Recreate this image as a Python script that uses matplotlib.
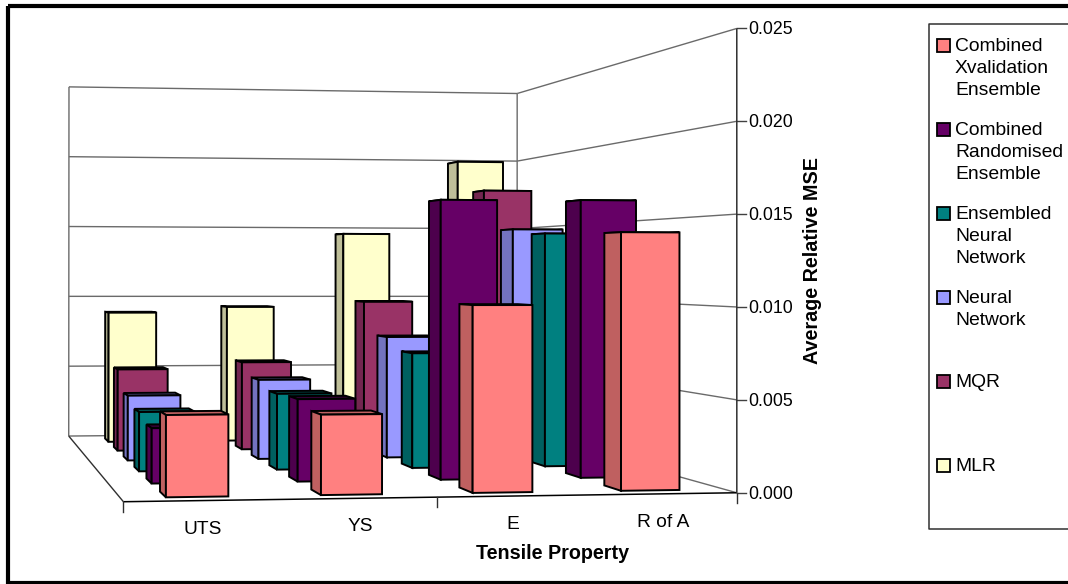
import matplotlib
matplotlib.use("Agg")
import matplotlib.pyplot as plt
import numpy as np
from matplotlib.patches import Polygon, Rectangle

plt.rcParams["font.family"] = ["Liberation Sans", "DejaVu Sans"]

categories = ["UTS", "YS", "E", "R of A"]
series_names = [
    "Combined\nXvalidation\nEnsemble",
    "Combined\nRandomised\nEnsemble",
    "Ensembled\nNeural\nNetwork",
    "Neural\nNetwork",
    "MQR",
    "MLR",
]
combined_xval = [0.00432, 0.00427, 0.01008, 0.01403]
combined_rand = [0.00309, 0.00465, 0.01596, 0.01600]
ensembled_nn = [0.00351, 0.00453, 0.00692, 0.01419]
neural_net = [0.00405, 0.00499, 0.00767, 0.01457]
mqr = [0.00535, 0.00578, 0.00980, 0.01732]
mlr = [0.00894, 0.00933, 0.01447, 0.01963]
series_values = [combined_xval, combined_rand, ensembled_nn, neural_net, mqr, mlr]
tick_values = [0.000, 0.005, 0.010, 0.015, 0.020, 0.025]

front_colors = ["#FF8080", "#660066", "#008080", "#9999FF", "#993366", "#FFFFCC"]
side_colors = ["#BF6060", "#4D004D", "#006060", "#7373BF", "#732650", "#BFBF99"]
top_colors = ["#BF6060", "#330033", "#004D4D", "#6060A0", "#5C1F40", "#BFBF99"]

Z_MAX = 0.025
BAR_X = (0.29, 0.69)
BAR_FRONT = 0.25
BAR_DEPTH = 0.4
GRID_GRAY = "#6A6A6A"


def fit_projection(world, screen):
    rows = []
    for (x, y, z), (u, v) in zip(world, screen):
        rows.append([x, y, z, 1, 0, 0, 0, 0, -u * x, -u * y, -u * z, -u])
        rows.append([0, 0, 0, 0, x, y, z, 1, -v * x, -v * y, -v * z, -v])
    return np.linalg.svd(np.array(rows, dtype=float))[2][-1].reshape(3, 4)


# box corners: x in categories, y in depth (0 front, 1 back), z as value / Z_MAX
PROJ = fit_projection(
    [(0, 0, 0), (4, 0, 0), (0, 1, 0), (4, 1, 0), (4, 0, 1), (4, 1, 1), (0, 1, 1)],
    [(123, 503), (737, 491), (69, 435), (517, 433), (737, 29), (517, 93), (69, 87)],
)


def project(x, y, value):
    p = PROJ @ np.array([x, y, value / Z_MAX, 1.0])
    return p[0] / p[2], p[1] / p[2]


def draw_bar(ax, cat, row, value):
    x0, x1 = cat + BAR_X[0], cat + BAR_X[1]
    slot = 1 / len(series_values)
    y0 = (row + BAR_FRONT) * slot
    y1 = y0 + BAR_DEPTH * slot
    faces = [
        ([(x0, y0, value), (x1, y0, value), (x1, y1, value), (x0, y1, value)], top_colors[row]),
        ([(x0, y0, 0), (x0, y1, 0), (x0, y1, value), (x0, y0, value)], side_colors[row]),
        ([(x0, y0, 0), (x1, y0, 0), (x1, y0, value), (x0, y0, value)], front_colors[row]),
    ]
    for corners, color in faces:
        ax.add_patch(Polygon([project(*c) for c in corners], closed=True, facecolor=color,
                             edgecolor="black", linewidth=1.4, joinstyle="miter", zorder=3))


def line3d(ax, a, b, color=GRID_GRAY, lw=1.0, zorder=2):
    p, q = project(*a), project(*b)
    ax.plot([p[0], q[0]], [p[1], q[1]], color=color, lw=lw, solid_capstyle="butt", zorder=zorder)


fig = plt.figure(figsize=(10.68, 5.84), dpi=100)
ax = fig.add_axes([0, 0, 1, 1])
ax.set_xlim(0, 1068)
ax.set_ylim(584, 0)
ax.axis("off")

# outer frame, its right side runs off the canvas
ax.add_patch(Rectangle((8, 6), 1070, 577, fill=False, edgecolor="black", linewidth=3, joinstyle="miter"))

# back and side walls
for v in tick_values:
    line3d(ax, (0, 1, v), (4, 1, v))
    line3d(ax, (4, 1, v), (4, 0, v))
    p = project(4, 0, v)
    ax.plot([p[0], p[0] + 9], [p[1], p[1]], color="#404040", lw=1.0, zorder=4)
    ax.text(p[0] + 11, p[1] + 1.5, f"{v:.3f}", ha="left", va="center", fontsize=12.8)
line3d(ax, (0, 1, 0), (0, 1, Z_MAX))
line3d(ax, (4, 1, 0), (4, 1, Z_MAX))

# floor edges
line3d(ax, (0, 1, 0), (0, 0, 0), color="#303030")
line3d(ax, (0, 0, 0), (4, 0, 0), color="black", lw=1.1)

# bars from back row to front row
for row in range(len(series_values) - 1, -1, -1):
    for cat, value in enumerate(series_values[row]):
        draw_bar(ax, cat, row, value)

# value axis and category ticks
line3d(ax, (4, 0, 0), (4, 0, Z_MAX), color="#303030", lw=1.1, zorder=4)
for cat in (0, 2, 4):
    p = project(cat, 0, 0)
    ax.plot([p[0], p[0]], [p[1], p[1] + 10], color="#303030", lw=1.0, zorder=4)

for cat, label in enumerate(categories):
    p = project(cat + 0.5, 0, 0)
    ax.text(p[0], p[1] + 28.5, label, ha="center", va="center", fontsize=13.8)

ax.text(553, 553.5, "Tensile Property", ha="center", va="center", fontsize=14.2, fontweight="bold")
ax.text(813, 260.5, "Average Relative MSE", ha="center", va="center", rotation=90,
        fontsize=14.2, fontweight="bold")

# legend
ax.plot([1068, 929, 929, 1068], [24, 24, 529, 529], color="#303030", lw=1.1)
for i, name in enumerate(series_names):
    yc = 45 + 84 * i
    ax.add_patch(Rectangle((937, yc - 6.5), 13, 13, facecolor=front_colors[i], edgecolor="black", linewidth=1.3))
    for j, line in enumerate(name.split("\n")):
        ax.text(955, yc + 1.5 + 22 * j, line, ha="left", va="center", fontsize=13.9)

fig.savefig("out.png", dpi=100)
